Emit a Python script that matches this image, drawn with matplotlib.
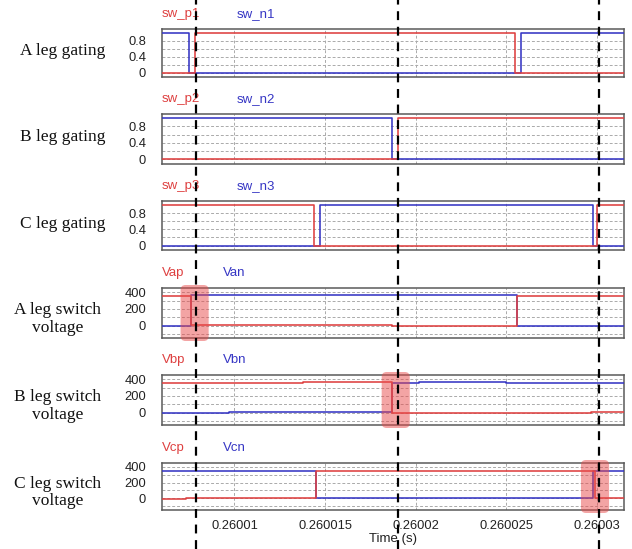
import matplotlib
matplotlib.use('Agg')
import matplotlib.pyplot as plt
from matplotlib.lines import Line2D
from matplotlib.patches import FancyBboxPatch
from matplotlib.transforms import IdentityTransform

plt.rcParams['font.family'] = 'Liberation Sans'

RED = '#de4040'
BLUE = '#3636c4'

# time window of the plot
t_start, t_end = 0.260006, 0.2600315
xtick_vals = [0.26001, 0.260015, 0.26002, 0.260025, 0.26003]
xtick_labels = ['0.26001', '0.260015', '0.26002', '0.260025', '0.26003']

# gating signals: switching instants and levels between them
sw_p1_t = [0.2600078, 0.2600255]
sw_p1_v = [0, 1, 0]
sw_n1_t = [0.2600075, 0.2600258]
sw_n1_v = [1, 0, 1]

sw_p2_t = [0.2600190]
sw_p2_v = [0, 1]
sw_n2_t = [0.2600187]
sw_n2_v = [1, 0]

sw_p3_t = [0.2600144, 0.2600300]
sw_p3_v = [1, 0, 1]
sw_n3_t = [0.2600147, 0.2600298]
sw_n3_v = [0, 1, 0]

# switch voltages (V)
vap_t = [0.2600076, 0.2600187, 0.2600256]
vap_v = [360, 5, 0, 360]
van_t = [0.2600076, 0.2600091, 0.2600138, 0.2600203, 0.2600256]
van_v = [0, 365, 372, 368, 372, 0]

vbp_t = [0.2600091, 0.2600138, 0.2600187, 0.2600297]
vbp_v = [352, 360, 368, 0, 8]
vbn_t = [0.2600097, 0.2600187, 0.2600202, 0.2600250]
vbn_v = [0, 8, 352, 364, 356]

vcp_t = [0.2600073, 0.2600145, 0.2600299]
vcp_v = [-8, 0, 350, 0]
vcn_t = [0.2600145, 0.2600298]
vcn_v = [350, 0, 350]

# marked instants
dashed_times = [0.2600079, 0.2600190, 0.2600301]
highlight_times = [0.2600078, 0.2600189, 0.2600299]
highlight_width = 1.55e-6

panels = [
    ('A leg gating', 'gate', ('sw_p1', sw_p1_t, sw_p1_v), ('sw_n1', sw_n1_t, sw_n1_v)),
    ('B leg gating', 'gate', ('sw_p2', sw_p2_t, sw_p2_v), ('sw_n2', sw_n2_t, sw_n2_v)),
    ('C leg gating', 'gate', ('sw_p3', sw_p3_t, sw_p3_v), ('sw_n3', sw_n3_t, sw_n3_v)),
    ('A leg switch\nvoltage', 'volt', ('Vap', vap_t, vap_v), ('Van', van_t, van_v)),
    ('B leg switch\nvoltage', 'volt', ('Vbp', vbp_t, vbp_v), ('Vbn', vbn_t, vbn_v)),
    ('C leg switch\nvoltage', 'volt', ('Vcp', vcp_t, vcp_v), ('Vcn', vcn_t, vcn_v)),
]

W, H = 632, 549
left_px, right_px = 162, 624
tops_px = [29, 114, 201, 288, 375, 463]
heights_px = [48, 50, 49, 50, 50, 47]


def steps(edges, levels):
    t = [t_start] + list(edges) + [t_end]
    y = list(levels) + [levels[-1]]
    return t, y


fig = plt.figure(figsize=(W / 100, H / 100), dpi=100)
axes = []
for i, (title, kind, pos, neg) in enumerate(panels):
    top, h = tops_px[i], heights_px[i]
    ax = fig.add_axes([left_px / W, 1 - (top + h) / H, (right_px - left_px) / W, h / H])
    axes.append(ax)

    for (name, et, ev), col in ((neg, BLUE), (pos, RED)):
        t, y = steps(et, ev)
        ax.plot(t, y, drawstyle='steps-post', color=col, lw=1.15, zorder=3)

    ax.set_xlim(t_start, t_end)
    ax.set_xticks(xtick_vals)
    if kind == 'gate':
        ax.set_ylim(-0.11, 1.1)
        ax.set_yticks([0, 0.4, 0.8])
        ax.set_yticklabels(['0', '0.4', '0.8'])
        ax.set_yticks([0.2, 0.6], minor=True)
        blue_off = 54
        lab_x, lab_dy = 63, 2
    else:
        ax.set_ylim(-150, 450)
        ax.set_yticks([0, 200, 400])
        ax.set_yticklabels(['0', '200', '400'])
        ax.set_yticks([-100, 100, 300], minor=True)
        blue_off = 44
        lab_x, lab_dy = 58, -6

    grid_kw = dict(color='#aaaaaa', linestyle=(0, (3, 2)), linewidth=0.7)
    ax.grid(axis='y', which='both', **grid_kw)
    ax.grid(axis='x', which='major', **grid_kw)
    ax.set_axisbelow(True)
    ax.tick_params(axis='both', which='both', length=0)
    ax.tick_params(axis='y', pad=11.5, labelsize=9.3, labelcolor='#222222')
    ax.tick_params(axis='x', pad=7, labelsize=9.3, labelcolor='#222222')
    if i < len(panels) - 1:
        ax.set_xticklabels([])
    else:
        ax.set_xticklabels(xtick_labels)
        ax.set_xlabel('Time (s)', fontsize=9.5, labelpad=1, color='#222222')
    for sp in ax.spines.values():
        sp.set_color('#5a5a5a')
        sp.set_linewidth(1.1)

    ax.annotate(pos[0], xy=(0, 1), xycoords='axes fraction', xytext=(0, 11),
                textcoords='offset points', ha='left', va='center', color=RED, fontsize=9.5)
    ax.annotate(neg[0], xy=(0, 1), xycoords='axes fraction', xytext=(blue_off, 11),
                textcoords='offset points', ha='left', va='center', color=BLUE, fontsize=9.5)

    ax.text((lab_x - left_px) / (right_px - left_px), 0.5 + lab_dy / h, title,
            transform=ax.transAxes, ha='center', va='center', fontsize=12.5,
            family='Liberation Serif', linespacing=1.15, color='#111111')

# translucent boxes around the switching transitions (voltage panels)
for ax, tc in zip(axes[3:], highlight_times):
    x0 = ax.transData.transform((tc - highlight_width / 2, 0))[0]
    x1 = ax.transData.transform((tc + highlight_width / 2, 0))[0]
    y0 = ax.bbox.y0 - 3
    y1 = ax.bbox.y1 + 3
    box = FancyBboxPatch((x0, y0), x1 - x0, y1 - y0,
                         boxstyle='round,pad=0,rounding_size=5',
                         transform=IdentityTransform(), facecolor='#e84a4a',
                         edgecolor='none', alpha=0.5, zorder=1)
    fig.add_artist(box)

# dashed vertical markers through all panels
for tc in dashed_times:
    xf = axes[0].transData.transform((tc, 0))[0] / fig.bbox.width
    fig.add_artist(Line2D([xf, xf], [0, 1], transform=fig.transFigure, color='black',
                          lw=1.6, linestyle=(0, (4, 3)), zorder=2))

fig.savefig('out.png', dpi=100)
